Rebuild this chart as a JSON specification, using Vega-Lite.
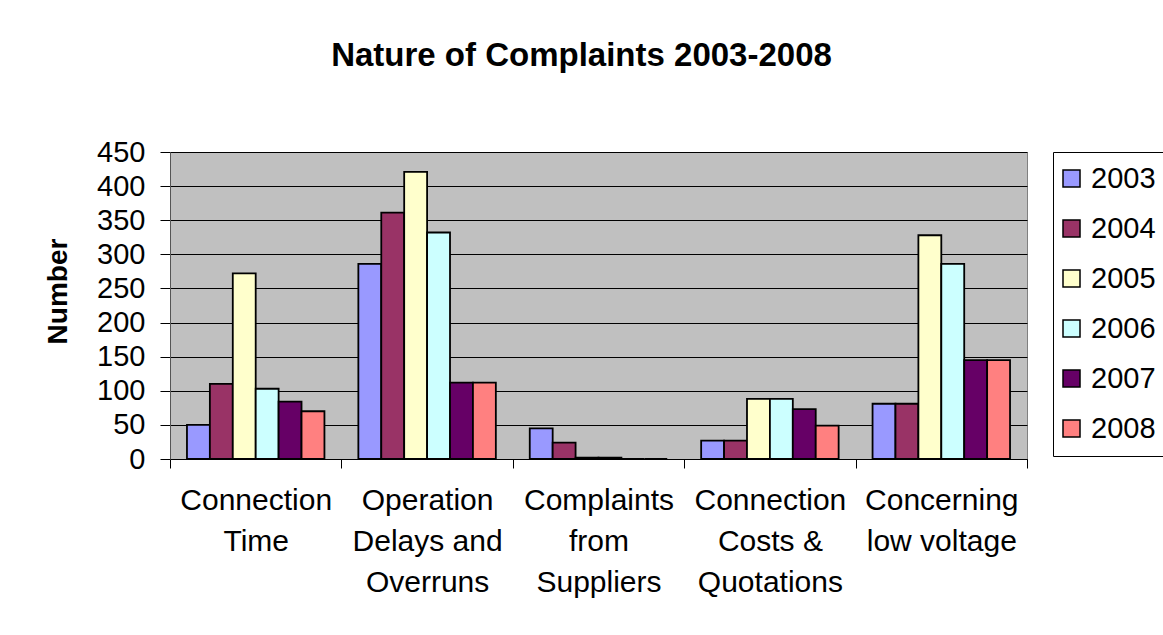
{
  "$schema": "https://vega.github.io/schema/vega-lite/v6.json",
  "autosize": "none",
  "width": 857,
  "height": 307,
  "padding": {"left": 170, "top": 152, "right": 136, "bottom": 176},
  "background": "white",
  "title": {
    "text": "Nature of Complaints 2003-2008",
    "font": "Liberation Sans",
    "fontSize": 33,
    "fontWeight": "bold",
    "color": "black",
    "anchor": "middle",
    "dx": -17,
    "offset": 65
  },
  "data": {
    "values": [
      {"category": "Connection Time", "year": "2003", "value": 50},
      {"category": "Connection Time", "year": "2004", "value": 110},
      {"category": "Connection Time", "year": "2005", "value": 272},
      {"category": "Connection Time", "year": "2006", "value": 103},
      {"category": "Connection Time", "year": "2007", "value": 84},
      {"category": "Connection Time", "year": "2008", "value": 70},
      {"category": "Operation Delays and Overruns", "year": "2003", "value": 286},
      {"category": "Operation Delays and Overruns", "year": "2004", "value": 361},
      {"category": "Operation Delays and Overruns", "year": "2005", "value": 421},
      {"category": "Operation Delays and Overruns", "year": "2006", "value": 332},
      {"category": "Operation Delays and Overruns", "year": "2007", "value": 112},
      {"category": "Operation Delays and Overruns", "year": "2008", "value": 112},
      {"category": "Complaints from Suppliers", "year": "2003", "value": 45},
      {"category": "Complaints from Suppliers", "year": "2004", "value": 24},
      {"category": "Complaints from Suppliers", "year": "2005", "value": 2},
      {"category": "Complaints from Suppliers", "year": "2006", "value": 2},
      {"category": "Complaints from Suppliers", "year": "2007", "value": 0},
      {"category": "Complaints from Suppliers", "year": "2008", "value": 0},
      {"category": "Connection Costs & Quotations", "year": "2003", "value": 27},
      {"category": "Connection Costs & Quotations", "year": "2004", "value": 27},
      {"category": "Connection Costs & Quotations", "year": "2005", "value": 88},
      {"category": "Connection Costs & Quotations", "year": "2006", "value": 88},
      {"category": "Connection Costs & Quotations", "year": "2007", "value": 73},
      {"category": "Connection Costs & Quotations", "year": "2008", "value": 49},
      {"category": "Concerning low voltage", "year": "2003", "value": 81},
      {"category": "Concerning low voltage", "year": "2004", "value": 81},
      {"category": "Concerning low voltage", "year": "2005", "value": 328},
      {"category": "Concerning low voltage", "year": "2006", "value": 286},
      {"category": "Concerning low voltage", "year": "2007", "value": 145},
      {"category": "Concerning low voltage", "year": "2008", "value": 145}
    ]
  },
  "mark": {"type": "bar", "stroke": "black", "strokeWidth": 1.8},
  "encoding": {
    "x": {
      "field": "category",
      "type": "nominal",
      "sort": null,
      "scale": {"paddingInner": 0, "paddingOuter": 0},
      "axis": {
        "title": null,
        "labelAngle": 0,
        "labelFontSize": 30,
        "labelLineHeight": 41,
        "labelColor": "black",
        "labelPadding": 17,
        "tickBand": "extent",
        "tickSize": 9,
        "tickColor": "black",
        "domainColor": "black",
        "grid": false,
        "labelExpr": "datum.label == 'Connection Time' ? ['Connection', 'Time'] : datum.label == 'Operation Delays and Overruns' ? ['Operation', 'Delays and', 'Overruns'] : datum.label == 'Complaints from Suppliers' ? ['Complaints', 'from', 'Suppliers'] : datum.label == 'Connection Costs & Quotations' ? ['Connection', 'Costs &', 'Quotations'] : datum.label == 'Concerning low voltage' ? ['Concerning', 'low voltage'] : ''"
      }
    },
    "xOffset": {
      "field": "year",
      "type": "nominal",
      "scale": {"paddingInner": 0, "paddingOuter": 0.74}
    },
    "y": {
      "field": "value",
      "type": "quantitative",
      "scale": {"domain": [0, 450], "nice": false},
      "axis": {
        "title": "Number",
        "titleFontSize": 28,
        "titleFontWeight": "bold",
        "titleColor": "black",
        "titlePadding": 24,
        "titleY": 139,
        "values": [0, 50, 100, 150, 200, 250, 300, 350, 400, 450],
        "labelFontSize": 29,
        "labelColor": "black",
        "labelPadding": 15,
        "tickSize": 10,
        "tickColor": "black",
        "domainColor": "#555555",
        "gridColor": "black",
        "gridOpacity": 1,
        "gridWidth": 1
      }
    },
    "color": {
      "field": "year",
      "type": "nominal",
      "scale": {
        "domain": ["2003", "2004", "2005", "2006", "2007", "2008"],
        "range": ["#9999FF", "#993366", "#FFFFCC", "#CCFFFF", "#660066", "#FF8080"]
      },
      "legend": {
        "title": null,
        "orient": "right",
        "offset": 26,
        "padding": 12,
        "strokeColor": "black",
        "fillColor": "white",
        "symbolType": "square",
        "symbolSize": 289,
        "symbolOffset": -8,
        "symbolStrokeColor": "black",
        "symbolStrokeWidth": 1.5,
        "symbolOpacity": 1,
        "labelFontSize": 29,
        "labelColor": "black",
        "labelOffset": 5,
        "rowPadding": 20
      }
    }
  },
  "config": {
    "font": "Liberation Sans",
    "view": {"fill": "#C0C0C0", "stroke": "#808080"}
  }
}
